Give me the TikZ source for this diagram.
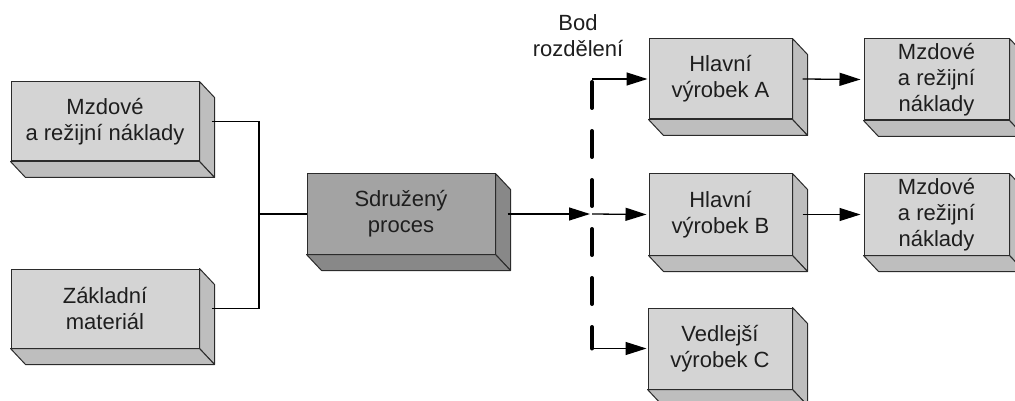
\documentclass[tikz,border=0pt]{standalone}
\usepackage{fontspec}
\setmainfont{Liberation Sans}
\usetikzlibrary{arrows.meta,calc}

\definecolor{facelight}{HTML}{D4D4D4}
\definecolor{sidelight}{HTML}{BEBEBE}
\definecolor{facedark}{HTML}{A3A3A3}
\definecolor{sidedark}{HTML}{888888}
\definecolor{edgecol}{HTML}{2B2B2B}
\definecolor{txtcol}{HTML}{1E1E1E}

\newcommand\boxdepth[2]{%
  \filldraw[fill=#2,draw=edgecol,line width=1pt,line join=round]
    (#1.north east) -- ++(15,16) -- ($(#1.south east)+(15,16)$) -- (#1.south east) -- cycle;
  \filldraw[fill=#2,draw=edgecol,line width=1pt,line join=round]
    (#1.south west) -- ++(15,16) -- ($(#1.south east)+(15,16)$) -- (#1.south east) -- cycle;
}

\begin{document}
\begin{tikzpicture}[x=1pt,y=-1pt,
  cuboid/.style={draw=edgecol,line width=1pt,fill=facelight,inner sep=0pt,
    align=center,text=txtcol,font=\fontsize{22}{26}\selectfont},
  conn/.style={line width=1.3pt,black},
  arr/.style={-{Triangle[length=21pt,width=13pt]}},
  dashline/.style={line width=4pt,black,line cap=round,dash pattern=on 26pt off 23pt},
  lbl/.style={inner sep=0pt,align=center,text=txtcol,font=\fontsize{22}{26}\selectfont}
]
\useasboundingbox (0,0) rectangle (1015,401);
\fill[white] (0,0) rectangle (1015,401);

% nodes (front faces)
\node[cuboid,minimum width=188pt,minimum height=79pt] (m1) at (105,121.5) {Mzdové\\a režijní náklady};
\node[cuboid,minimum width=188pt,minimum height=79pt] (zm) at (105,308.5) {Základní\\materiál};
\node[cuboid,fill=facedark,minimum width=188pt,minimum height=80pt] (sp) at (401,214) {Sdružený\\proces};
\node[cuboid,minimum width=143pt,minimum height=80pt] (ha) at (720.5,79) {Hlavní\\výrobek A};
\node[cuboid,minimum width=143pt,minimum height=81pt] (hb) at (720.5,214.5) {Hlavní\\výrobek B};
\node[cuboid,minimum width=144pt,minimum height=81pt] (vc) at (720,348.5) {Vedlejší\\výrobek C};
\node[cuboid,minimum width=145pt,minimum height=81pt] (ma) at (936.5,79.5) {Mzdové\\a režijní\\náklady};
\node[cuboid,minimum width=145pt,minimum height=81pt] (mb) at (936.5,214.5) {Mzdové\\a režijní\\náklady};

\boxdepth{m1}{sidelight}
\boxdepth{zm}{sidelight}
\boxdepth{sp}{sidedark}
\boxdepth{ha}{sidelight}
\boxdepth{hb}{sidelight}
\boxdepth{vc}{sidelight}
\boxdepth{ma}{sidelight}
\boxdepth{mb}{sidelight}

\node[lbl] (bod) at (578,36) {Bod\\rozdělení};

% coordinates
\coordinate (j) at (259,214);
\coordinate (d1) at (592,79);
\coordinate (dm) at (592,214);
\coordinate (d2) at (592,348.5);

% connectors
\draw[conn] ($(m1.east)+(12,0)$) -| (j) |- ($(zm.east)+(12,0)$);
\draw[conn] (j) -- (sp.west);
\draw[conn,arr,shorten >=2pt] ($(sp.east)+(12,0)$) -- (dm);
\draw[conn,arr,shorten >=2pt] (dm) -- (hb.west);
\draw[conn,arr,shorten >=1pt] (d1) -- (ha.west);
\draw[conn,arr,shorten >=1pt] (d2) -- (vc.west);
\draw[conn,arr,shorten >=3pt] ($(ha.east)+(10,0)$) -- (ma.west);
\draw[conn,arr,shorten >=3pt] ($(hb.east)+(10,0)$) -- (mb.west);
\draw[dashline] ($(d1)+(0,3)$) -- (d2);
\end{tikzpicture}
\end{document}
